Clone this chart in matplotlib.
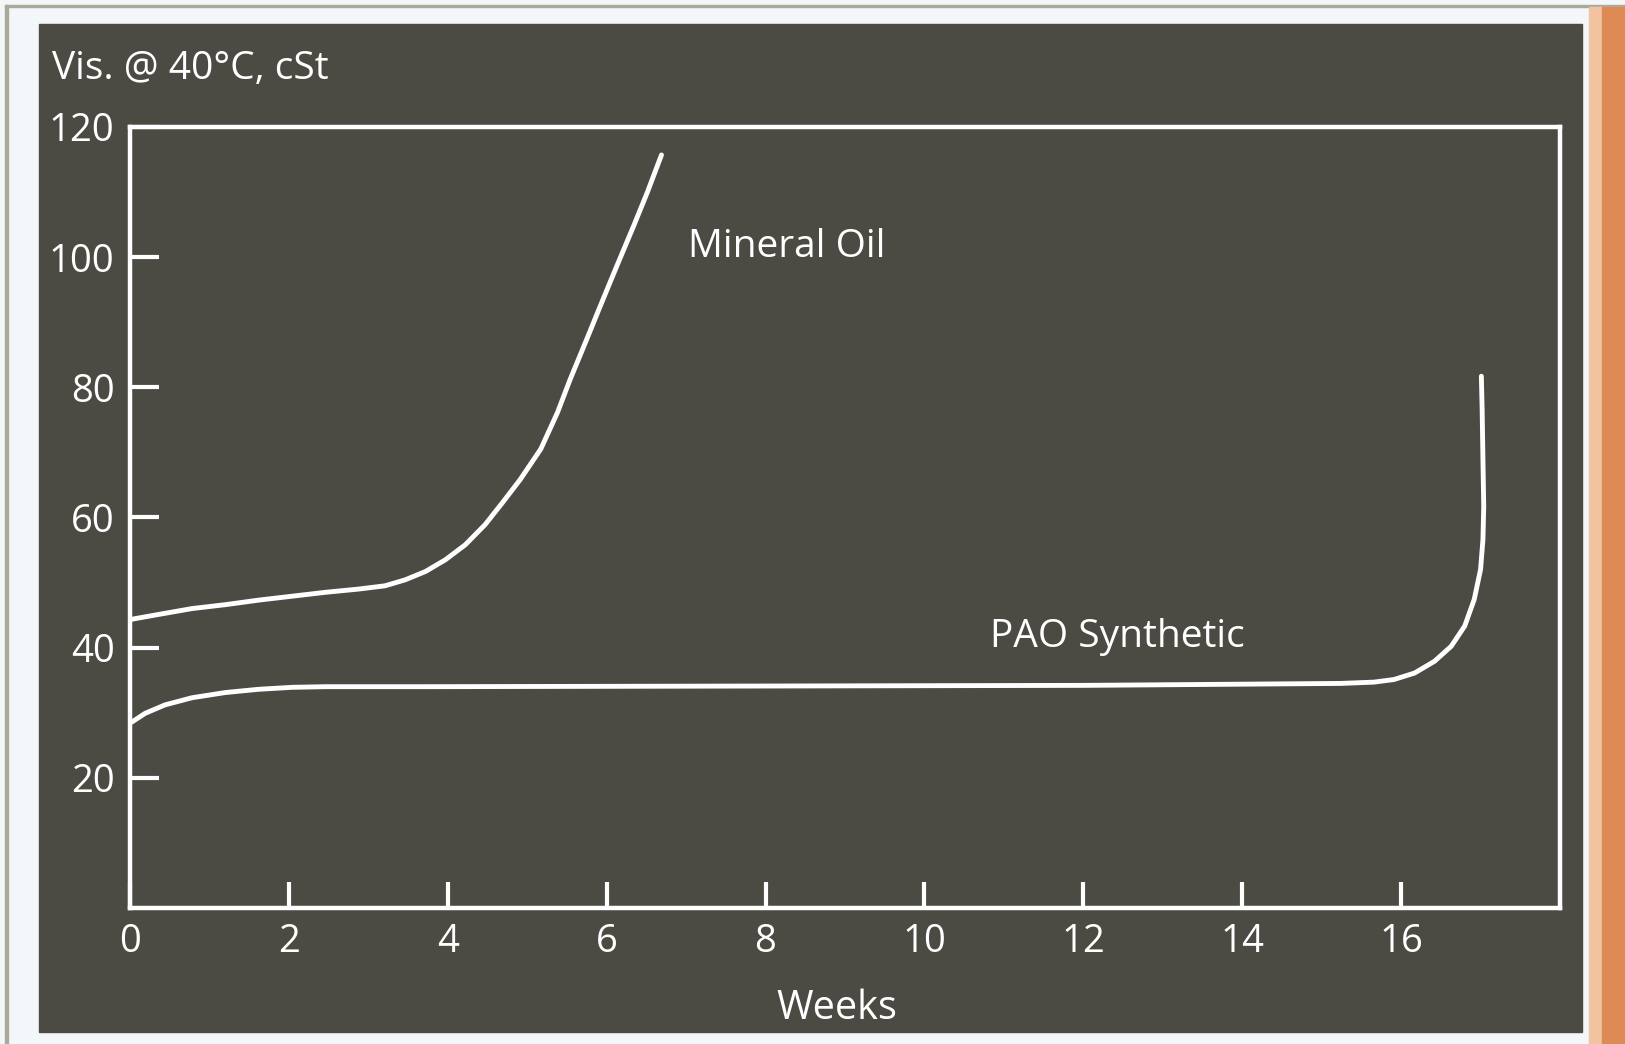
import numpy as np
import matplotlib
matplotlib.use("Agg")
import matplotlib.pyplot as plt
from matplotlib.patches import Rectangle

# values (weeks, cSt)
mineral_weeks = [0.0, 0.04, 0.36, 0.78, 1.20, 1.62, 2.04, 2.46, 2.88, 3.21, 3.46,
                 3.72, 3.97, 4.22, 4.47, 4.69, 4.91, 5.17, 5.38, 5.54, 5.75,
                 5.92, 6.13, 6.34, 6.51, 6.69]
mineral_visc = [44.3, 44.4, 45.1, 46.0, 46.6, 47.3, 47.9, 48.5, 49.0, 49.5, 50.4,
                51.7, 53.5, 55.8, 58.9, 62.3, 65.8, 70.5, 76.1, 81.2, 87.4,
                92.5, 98.7, 104.8, 109.9, 115.7]

pao_weeks = [0.0, 0.04, 0.19, 0.44, 0.78, 1.20, 1.62, 2.04, 2.46, 3.72, 8.0,
             12.0, 15.24, 15.66, 15.91, 16.17, 16.42, 16.63, 16.80, 16.92, 17.00,
             17.03, 17.04, 17.03, 17.02, 17.01]
pao_visc = [28.4, 28.7, 29.9, 31.2, 32.3, 33.1, 33.6, 33.9, 34.0, 34.0, 34.1,
            34.2, 34.5, 34.7, 35.1, 36.1, 37.9, 40.2, 43.3, 47.4, 52.0,
            56.6, 61.7, 68.9, 76.6, 81.7]

x_ticks = [0, 2, 4, 6, 8, 10, 12, 14, 16]
y_ticks = [20, 40, 60, 80, 100, 120]

panel = '#4c4b43'
ink = 'white'
plt.rcParams['font.family'] = ['Open Sans', 'DejaVu Sans']

fig = plt.figure(figsize=(16.25, 10.44), dpi=100)
fig.patch.set_facecolor('#f3f7f9')

# screenshot frame: thin border, orange strip on the right, dark panel
fig.add_artist(Rectangle((0.003, 0.0), 0.002, 0.995, transform=fig.transFigure,
                         color='#a9aa9c', zorder=0))
fig.add_artist(Rectangle((0.003, 0.993), 0.997, 0.002, transform=fig.transFigure,
                         color='#a9aa9c', zorder=0))
fig.add_artist(Rectangle((0.978, 0.0), 0.022, 0.993, transform=fig.transFigure,
                         color='#f2c3a0', zorder=0))
fig.add_artist(Rectangle((0.986, 0.0), 0.014, 0.993, transform=fig.transFigure,
                         color='#de8a55', zorder=0))
fig.add_artist(Rectangle((0.024, 0.0115), 0.9495, 0.9655, transform=fig.transFigure,
                         color=panel, zorder=0))

ax = fig.add_axes([0.08, 0.1303, 0.88, 0.7481])
ax.set_facecolor(panel)

ax.plot(mineral_weeks, mineral_visc, color=ink, lw=3.5,
        solid_capstyle='round', solid_joinstyle='round')
ax.plot(pao_weeks, pao_visc, color=ink, lw=3.5,
        solid_capstyle='round', solid_joinstyle='round')

ax.set_xlim(0, 18)
ax.set_ylim(0, 120)
ax.set_xticks(x_ticks)
ax.set_yticks(y_ticks)
ax.tick_params(axis='y', direction='in', length=21, width=3, color=ink,
               labelcolor=ink, labelsize=27.5, pad=11)
ax.tick_params(axis='x', direction='in', length=19, width=3, color=ink,
               labelcolor=ink, labelsize=27.5, pad=10.5)
for s in ax.spines.values():
    s.set_color(ink)
    s.set_linewidth(3.2)

ax.text(7.03, 101.5, 'Mineral Oil', color=ink, fontsize=28, va='center', ha='left')
ax.text(10.82, 41.6, 'PAO Synthetic', color=ink, fontsize=28, va='center', ha='left')

fig.text(0.032, 0.934, 'Vis. @ 40°C, cSt', color=ink, fontsize=28, va='center', ha='left')
fig.text(0.515, 0.034, 'Weeks', color=ink, fontsize=28.5, va='center', ha='center')

fig.savefig('out.png', dpi=100, facecolor=fig.get_facecolor())
